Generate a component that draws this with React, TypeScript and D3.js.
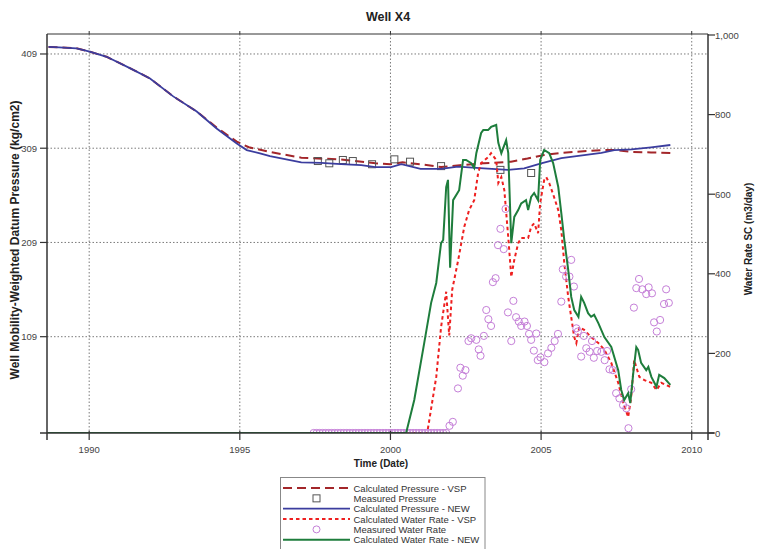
import React from "react";
import * as d3 from "d3";

// ---------------- DATA ----------------
const yearTicks = [1990, 1995, 2000, 2005, 2010];
const pressureTicks = [109, 209, 309, 409];
const rateTicks = [0, 200, 400, 600, 800, 1000];

// Calculated Pressure - NEW  [year, kg/cm2]
const pressureNew: [number, number][] = [
  [1988.65, 416.5], [1989.0, 416], [1989.58, 415], [1990.02, 411.4], [1990.58, 406],
  [1991.35, 394], [1992.02, 383], [1992.79, 364], [1993.57, 348], [1994.23, 330],
  [1994.9, 314], [1995.23, 307], [1995.67, 303.6], [1996.0, 300.5], [1996.5, 297.5],
  [1997.04, 294], [1997.7, 293.5], [1998.36, 292.2], [1999.03, 291], [1999.5, 289],
  [2000.02, 289], [2000.36, 292], [2001.0, 287], [2001.68, 287], [2002.24, 289.4],
  [2003.1, 287.7], [2003.9, 286], [2004.44, 287.7], [2005.0, 293], [2005.67, 298.6],
  [2007.0, 304], [2007.43, 307], [2008.0, 307.8], [2008.65, 310], [2009.29, 312.4],
];

// Calculated Pressure - VSP
const pressureVsp: [number, number][] = [
  [1988.65, 416.5], [1989.0, 416], [1989.58, 415], [1990.02, 411.4], [1990.58, 406],
  [1991.35, 394], [1992.02, 383], [1992.79, 364], [1993.57, 348], [1994.23, 331],
  [1994.9, 316], [1995.3, 310], [1996.0, 305], [1997.04, 299], [1998.36, 297],
  [1999.5, 293], [2000.0, 292], [2000.4, 294], [2001.0, 292], [2001.68, 289],
  [2002.3, 291], [2003.1, 293], [2004.0, 294.7], [2004.55, 298], [2005.1, 301.8],
  [2005.67, 304], [2006.5, 306], [2007.0, 307], [2007.5, 307], [2008.0, 305],
  [2008.65, 304.5], [2009.29, 304],
];

// Measured Pressure
const pressureMeasured: [number, number][] = [
  [1997.59, 295.4], [1997.97, 293], [1998.42, 296.5], [1998.75, 295.4], [1999.39, 292],
  [2000.13, 297.2], [2000.65, 294.7], [2001.68, 290], [2003.65, 286], [2004.67, 282.7],
];

// Calculated Water Rate - NEW [year, m3/day]
const waterNew: [number, number][] = [
  [1988.62, 0], [2000.52, 0], [2000.79, 83], [2001.12, 226], [2001.35, 327],
  [2001.52, 377], [2001.68, 477], [2001.75, 485], [2001.85, 618], [2001.91, 636],
  [2001.98, 415], [2002.08, 585], [2002.28, 610], [2002.41, 686], [2002.51, 686],
  [2002.68, 678], [2002.78, 666], [2002.85, 703], [2003.01, 754], [2003.08, 761],
  [2003.24, 761], [2003.34, 769], [2003.51, 774], [2003.58, 729], [2003.68, 703],
  [2003.84, 736], [2003.91, 703], [2004.01, 477], [2004.11, 543], [2004.24, 560],
  [2004.34, 577], [2004.5, 585], [2004.57, 560], [2004.67, 593], [2004.77, 603],
  [2004.9, 585], [2004.97, 686], [2005.1, 711], [2005.27, 703], [2005.4, 678],
  [2005.57, 618], [2005.67, 553], [2005.77, 485], [2005.9, 410], [2006.0, 342],
  [2006.1, 309], [2006.24, 292], [2006.33, 342], [2006.43, 327], [2006.56, 301],
  [2006.66, 292], [2006.76, 297], [2006.9, 276], [2007.1, 241], [2007.33, 216],
  [2007.56, 158], [2007.66, 108], [2007.76, 83], [2007.89, 100], [2007.96, 75],
  [2008.06, 151], [2008.16, 216], [2008.22, 209], [2008.32, 176], [2008.49, 158],
  [2008.56, 166], [2008.66, 141], [2008.83, 116], [2008.92, 146], [2009.09, 138],
  [2009.29, 121],
];

// Calculated Water Rate - VSP
const waterVsp: [number, number][] = [
  [1988.62, 0], [2001.22, 0], [2001.52, 141], [2001.68, 266], [2001.85, 355],
  [2001.95, 245], [2002.05, 360], [2002.25, 435], [2002.45, 518], [2002.61, 560],
  [2002.78, 585], [2002.91, 653], [2003.01, 678], [2003.24, 693], [2003.34, 703],
  [2003.51, 686], [2003.58, 628], [2003.68, 643], [2003.78, 610], [2003.91, 492],
  [2004.01, 392], [2004.11, 435], [2004.24, 477], [2004.34, 490], [2004.57, 490],
  [2004.67, 518], [2004.77, 527], [2004.9, 502], [2004.97, 578], [2005.1, 635],
  [2005.17, 643], [2005.27, 628], [2005.43, 593], [2005.57, 560], [2005.67, 510],
  [2005.77, 427], [2005.9, 342], [2006.0, 291], [2006.1, 241], [2006.17, 226],
  [2006.27, 266], [2006.43, 259], [2006.66, 241], [2006.9, 226], [2007.1, 209],
  [2007.33, 176], [2007.56, 126], [2007.73, 75], [2007.89, 40], [2007.99, 90],
  [2008.09, 183], [2008.26, 141], [2008.43, 133], [2008.66, 126], [2008.83, 108],
  [2008.99, 126], [2009.29, 116],
];

// Measured Water Rate - dates of the zero readings
const waterMeasuredZeroDates = [
  1997.45, 1997.55, 1997.65, 1997.75, 1997.85, 1997.95, 1998.05, 1998.15, 1998.25, 1998.35,
  1998.45, 1998.55, 1998.65, 1998.75, 1998.85, 1998.95, 1999.05, 1999.15, 1999.25, 1999.35,
  1999.45, 1999.55, 1999.65, 1999.75, 1999.85, 1999.95, 2000.05, 2000.15, 2000.25, 2000.35,
  2000.45, 2000.55, 2000.65, 2000.75, 2000.85, 2000.95, 2001.05, 2001.15, 2001.25, 2001.35,
  2001.45, 2001.55, 2001.65, 2001.75, 2001.85,
];

// Measured Water Rate - non-zero readings
const waterMeasured: [number, number][] = [
  [2001.96, 18], [2002.07, 28], [2002.24, 112], [2002.32, 164], [2002.4, 144],
  [2002.49, 158], [2002.59, 231], [2002.68, 238], [2002.85, 234], [2002.93, 210],
  [2002.99, 194], [2003.1, 244], [2003.18, 309], [2003.25, 286], [2003.34, 269],
  [2003.4, 379], [2003.49, 389], [2003.57, 472], [2003.65, 513], [2003.76, 462],
  [2003.82, 563], [2003.9, 303], [2004.01, 231], [2004.08, 332], [2004.17, 291],
  [2004.26, 280], [2004.34, 269], [2004.45, 280], [2004.53, 269], [2004.6, 249],
  [2004.67, 234], [2004.76, 207], [2004.84, 250], [2004.89, 183], [2004.98, 190],
  [2005.11, 178], [2005.23, 200], [2005.34, 214], [2005.45, 231], [2005.56, 249],
  [2005.67, 330], [2005.72, 411], [2005.83, 393], [2005.94, 393], [2006.0, 435],
  [2006.09, 368], [2006.17, 263], [2006.22, 255], [2006.33, 192], [2006.42, 244],
  [2006.5, 213], [2006.61, 204], [2006.69, 231], [2006.75, 189], [2006.86, 206],
  [2007.0, 204], [2007.11, 183], [2007.19, 206], [2007.27, 160], [2007.38, 158],
  [2007.49, 100], [2007.6, 87], [2007.72, 70], [2007.83, 62], [2007.9, 12],
  [2007.99, 110], [2008.08, 315], [2008.16, 364], [2008.25, 387], [2008.36, 361],
  [2008.49, 349], [2008.57, 366], [2008.68, 351], [2008.75, 278], [2008.84, 255],
  [2008.95, 284], [2009.08, 324], [2009.15, 361], [2009.24, 327],
];

const legendLabels = [
  "Calculated Pressure - VSP",
  "Measured Pressure",
  "Calculated Pressure - NEW",
  "Calculated Water Rate - VSP",
  "Measured Water Rate",
  "Calculated Water Rate - NEW",
];

// ---------------- STYLE ----------------
const W = 761;
const H = 549;
const L = 47, R = 708, T = 34, B = 433;
const FONT = "'Liberation Sans', Arial, sans-serif";
const C_PVSP = "#a3262a";
const C_PNEW = "#3b3d9e";
const C_WVSP = "#ee2020";
const C_WNEW = "#1e7d3c";
const C_CIRC = "#c57fd8";
const C_SQ = "#555555";

export default function App() {
  const x = d3.scaleLinear().domain([1988.6, 2010.54]).range([L, R]);
  const yP = d3.scaleLinear().domain([6.8, 430.2]).range([B, T]);
  const yW = d3.scaleLinear().domain([0, 1000]).range([B, 35]);

  const lineP = d3.line<[number, number]>().x((d) => x(d[0])).y((d) => yP(d[1]));
  const lineW = d3.line<[number, number]>().x((d) => x(d[0])).y((d) => yW(d[1]));

  const legendTop = 477.5;
  const rowY = (i: number) => 488 + i * 10.35;

  return (
    <svg
      width={W}
      height={H}
      style={{ position: "absolute", left: 0, top: 0, background: "#fff" }}
      fontFamily={FONT}
    >
      <defs>
        <clipPath id="plotclip">
          <rect x={L} y={T} width={R - L} height={B - T} />
        </clipPath>
      </defs>
      <rect x={0} y={0} width={W} height={H} fill="#fff" />

      {/* title */}
      <text x={388} y={21} textAnchor="middle" fontSize={12.5} fontWeight="bold" fill="#222">
        Well X4
      </text>

      {/* grid */}
      {yearTicks.map((t) => (
        <line key={"gx" + t} x1={x(t)} x2={x(t)} y1={T} y2={B} stroke="#7a7a7a" strokeDasharray="1.5,2" />
      ))}
      {pressureTicks.map((t) => (
        <line key={"gy" + t} x1={L} x2={R} y1={yP(t)} y2={yP(t)} stroke="#7a7a7a" strokeDasharray="1.5,2" />
      ))}

      {/* data */}
      <g clipPath="url(#plotclip)">
        <path d={lineP(pressureVsp) || ""} fill="none" stroke={C_PVSP} strokeWidth={2} strokeDasharray="9,5" />
        {pressureMeasured.map((d, i) => (
          <rect key={"sq" + i} x={x(d[0]) - 3.5} y={yP(d[1]) - 3.5} width={7} height={7} fill="none" stroke={C_SQ} strokeWidth={1} />
        ))}
        <path d={lineP(pressureNew) || ""} fill="none" stroke={C_PNEW} strokeWidth={1.8} />
        <path d={lineW(waterVsp) || ""} fill="none" stroke={C_WVSP} strokeWidth={2} strokeDasharray="3.5,3" />
        {waterMeasuredZeroDates.map((d, i) => (
          <circle key={"cz" + i} cx={x(d)} cy={yW(0)} r={3.6} fill="none" stroke={C_CIRC} strokeWidth={1} />
        ))}
        {waterMeasured.map((d, i) => (
          <circle key={"c" + i} cx={x(d[0])} cy={yW(d[1])} r={3.6} fill="none" stroke={C_CIRC} strokeWidth={1} />
        ))}
        <path d={lineW(waterNew) || ""} fill="none" stroke={C_WNEW} strokeWidth={2} />
      </g>

      {/* frame / axes */}
      <line x1={L} x2={R} y1={T} y2={T} stroke="#333" strokeWidth={1} />
      <line x1={40} x2={714} y1={B} y2={B} stroke="#333" strokeWidth={1.5} />
      <line x1={L} x2={L} y1={T} y2={440} stroke="#333" strokeWidth={1.5} />
      <line x1={R} x2={R} y1={T} y2={440} stroke="#333" strokeWidth={1.5} />

      {/* bottom ticks */}
      {yearTicks.map((t) => (
        <g key={"bx" + t}>
          <line x1={x(t)} x2={x(t)} y1={B - 2} y2={B + 7} stroke="#333" strokeWidth={1.2} />
          <line x1={x(t)} x2={x(t)} y1={T} y2={T - 3} stroke="#333" strokeWidth={1} />
          <text x={x(t)} y={453} textAnchor="middle" fontSize={9.5} fill="#444">
            {t}
          </text>
        </g>
      ))}
      <text x={381} y={467} textAnchor="middle" fontSize={10} fontWeight="bold" fill="#222">
        Time (Date)
      </text>

      {/* left ticks */}
      {pressureTicks.map((t) => (
        <g key={"ly" + t}>
          <line x1={L - 7} x2={L} y1={yP(t)} y2={yP(t)} stroke="#333" strokeWidth={1.2} />
          <text x={37} y={yP(t) + 3.5} textAnchor="end" fontSize={9.5} fill="#444">
            {t}
          </text>
        </g>
      ))}
      <text
        transform={`translate(19,${240}) rotate(-90)`}
        textAnchor="middle"
        fontSize={12}
        fontWeight="bold"
        fill="#222"
      >
        Well Mobility-Weighted Datum Pressure (kg/cm2)
      </text>

      {/* right ticks */}
      {rateTicks.map((t) => (
        <g key={"ry" + t}>
          <line x1={R} x2={R + 7} y1={yW(t)} y2={yW(t)} stroke="#333" strokeWidth={1.2} />
          <text x={715} y={yW(t) + 3.5} textAnchor="start" fontSize={9.5} fill="#444">
            {d3.format(",")(t)}
          </text>
        </g>
      ))}
      <text
        transform={`translate(752,${239}) rotate(-90)`}
        textAnchor="middle"
        fontSize={10}
        fontWeight="bold"
        fill="#222"
      >
        Water Rate SC (m3/day)
      </text>

      {/* legend */}
      <rect x={280.5} y={legendTop} width={204.5} height={80} fill="#fff" stroke="#888" strokeWidth={1} />
      <line x1={283} x2={350} y1={rowY(0)} y2={rowY(0)} stroke={C_PVSP} strokeWidth={2} strokeDasharray="9,5" />
      <rect x={316.5 - 3.5} y={rowY(1) - 3.5} width={7} height={7} fill="none" stroke={C_SQ} />
      <line x1={283} x2={350} y1={rowY(2)} y2={rowY(2)} stroke={C_PNEW} strokeWidth={1.8} />
      <line x1={283} x2={350} y1={rowY(3)} y2={rowY(3)} stroke={C_WVSP} strokeWidth={2} strokeDasharray="3.5,3" />
      <circle cx={316.5} cy={rowY(4)} r={3.5} fill="none" stroke={C_CIRC} />
      <line x1={283} x2={350} y1={rowY(5)} y2={rowY(5)} stroke={C_WNEW} strokeWidth={2} />
      {legendLabels.map((s, i) => (
        <text key={s} x={353.5} y={rowY(i) + 3.5} fontSize={9.5} fill="#333">
          {s}
        </text>
      ))}
    </svg>
  );
}
